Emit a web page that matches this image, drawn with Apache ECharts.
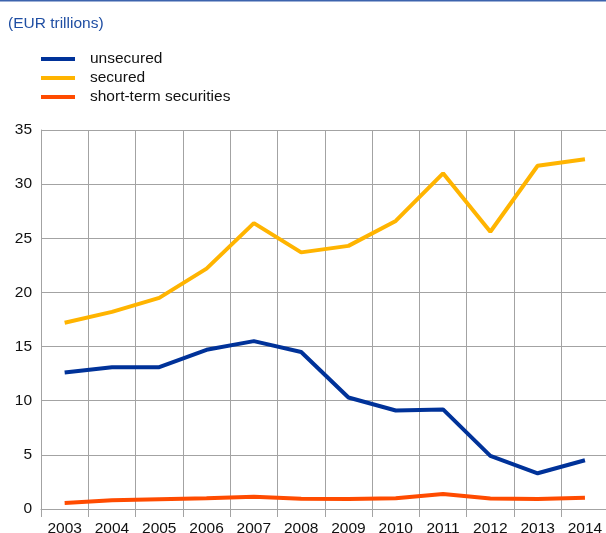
<!DOCTYPE html>
<html>
<head>
<meta charset="utf-8">
<script src="https://cdn.jsdelivr.net/npm/echarts@6/dist/echarts.min.js"></script>
<style>
html,body{margin:0;padding:0;background:#fff;}
#chart{width:606px;height:533px;}
</style>
</head>
<body>
<div id="chart"></div>
<script>
const years = ['2003','2004','2005','2006','2007','2008','2009','2010','2011','2012','2013','2014'];
const unsecured = [12.6, 13.1, 13.1, 14.7, 15.5, 14.5, 10.3, 9.1, 9.2, 4.9, 3.3, 4.5];
const secured = [17.2, 18.2, 19.5, 22.2, 26.4, 23.7, 24.3, 26.6, 31.0, 25.6, 31.7, 32.3];
const shortTerm = [0.55, 0.8, 0.9, 1.0, 1.13, 0.95, 0.93, 1.0, 1.38, 0.98, 0.92, 1.04];
const seriesNames = ['unsecured', 'secured', 'short-term securities'];
const colors = ['#003299', '#FFB400', '#FF4B00'];
const yTicks = {min: 0, max: 35, interval: 5};

const FONT = 'Liberation Sans, Arial, sans-serif';
const FS = 15.5;
const chart = echarts.init(document.getElementById('chart'), null, {renderer: 'canvas'});
const gridColor = '#a3a3a3';
const data = [unsecured, secured, shortTerm];

chart.setOption({
  animation: false,
  color: colors,
  textStyle: {fontFamily: FONT},
  graphic: [
    {type: 'rect', left: 0, top: 0, shape: {width: 606, height: 1.5}, style: {fill: '#3c63ad'}},
    {type: 'text', left: 8, top: 16, style: {text: '(EUR trillions)', fill: '#1f4ea3', font: FS + 'px ' + FONT}}
  ],
  legend: {
    orient: 'vertical',
    left: 36,
    top: 46,
    itemWidth: 34,
    itemHeight: 4,
    itemGap: 3,
    icon: 'rect',
    textStyle: {fontSize: FS, color: '#111', fontFamily: FONT, padding: [0, 0, 0, 10]},
    data: seriesNames
  },
  grid: {left: 41, top: 130, width: 567.6, height: 379, containLabel: false, outerBoundsMode: 'none'},
  xAxis: {
    type: 'category',
    data: years,
    boundaryGap: true,
    axisLine: {show: true, lineStyle: {color: gridColor, width: 1}},
    axisTick: {show: true, length: 8, interval: 0, lineStyle: {color: gridColor}},
    splitLine: {show: true, interval: 0, lineStyle: {color: gridColor, width: 1}},
    axisLabel: {interval: 0, fontSize: FS, color: '#111', margin: 12, fontFamily: FONT}
  },
  yAxis: {
    type: 'value',
    min: yTicks.min, max: yTicks.max, interval: yTicks.interval,
    axisLine: {show: true, lineStyle: {color: gridColor, width: 1}},
    axisTick: {show: false},
    splitLine: {show: true, lineStyle: {color: gridColor, width: 1}},
    axisLabel: {fontSize: FS, color: '#111', margin: 9, fontFamily: FONT, padding: [2, 0, 0, 0]}
  },
  series: seriesNames.map((n, i) => ({
    name: n,
    type: 'line',
    data: data[i],
    symbol: 'none',
    lineStyle: {width: 4, color: colors[i]},
    itemStyle: {color: colors[i]}
  }))
});
</script>
</body>
</html>
